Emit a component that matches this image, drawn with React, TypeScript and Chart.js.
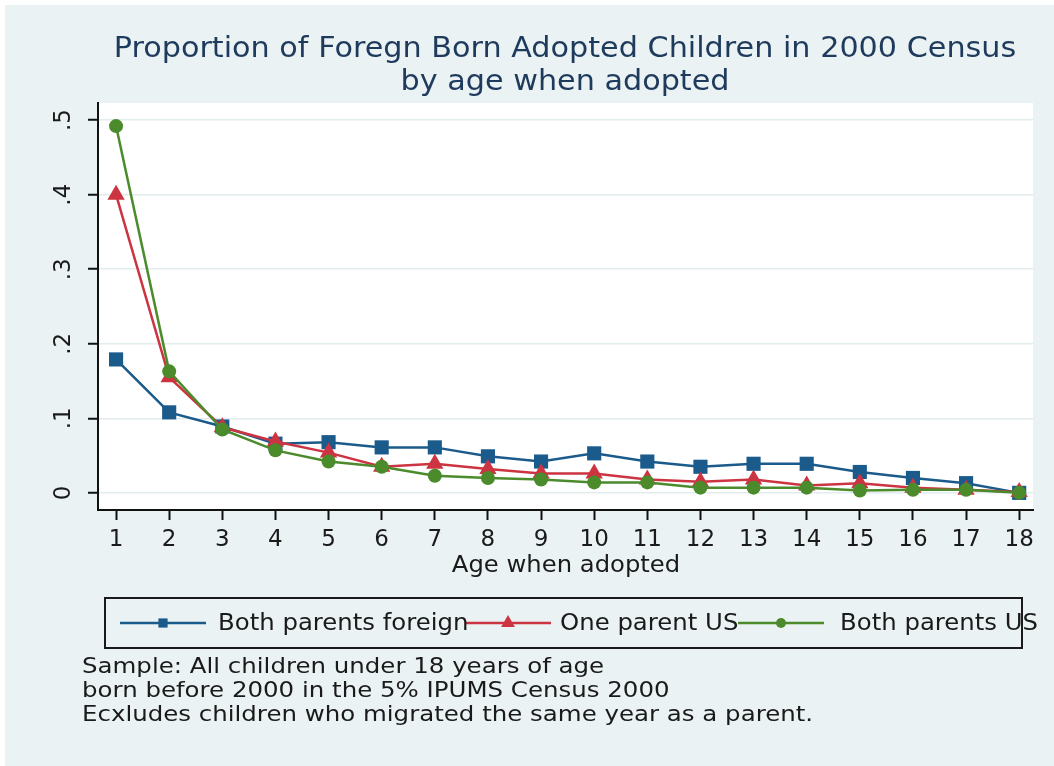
import React, { useEffect, useRef } from 'react';
import { Chart, registerables } from 'chart.js';

Chart.register(...registerables);

const ages = [1, 2, 3, 4, 5, 6, 7, 8, 9, 10, 11, 12, 13, 14, 15, 16, 17, 18];
const bothForeign = [0.179, 0.108, 0.089, 0.066, 0.068, 0.061, 0.061, 0.049, 0.042, 0.053, 0.042, 0.035, 0.039, 0.039, 0.028, 0.020, 0.013, 0.000];
const oneUS = [0.400, 0.155, 0.088, 0.069, 0.054, 0.035, 0.039, 0.032, 0.026, 0.026, 0.018, 0.015, 0.018, 0.010, 0.013, 0.007, 0.004, 0.001];
const bothUS = [0.492, 0.163, 0.085, 0.057, 0.042, 0.035, 0.023, 0.020, 0.018, 0.014, 0.014, 0.007, 0.007, 0.007, 0.003, 0.004, 0.004, 0.000];
const yTicks = [0, 0.1, 0.2, 0.3, 0.4, 0.5];
const yTickLabels = ['0', '.1', '.2', '.3', '.4', '.5'];
const seriesNames = ['Both parents foreign', 'One parent US', 'Both parents US'];
const titleLines = ['Proportion of Foregn Born Adopted Children in 2000 Census', 'by age when adopted'];
const xTitle = 'Age when adopted';
const notes = [
  'Sample: All children under 18 years of age',
  'born before 2000 in the 5% IPUMS Census 2000',
  'Ecxludes children who migrated the same year as a parent.',
];

const COLORS = ['#1b5b8c', '#cc3441', '#4b8b2c'];
const STYLES = ['rect', 'triangle', 'circle'];
const RADII = [10, 10, 7];
const LEG_RADII = [6.5, 8, 5];
const LEG_KEY_CENTERS = [158, 503, 776];
const LEG_LABEL_X = [213, 555, 835];
const BG = '#eaf2f3';
const FONT = '"DejaVu Sans", sans-serif';

function marker(ctx: CanvasRenderingContext2D, style: string, r: number, x: number, y: number) {
  ctx.beginPath();
  if (style === 'rect') {
    const s = r * Math.SQRT1_2;
    ctx.rect(x - s, y - s, 2 * s, 2 * s);
  } else if (style === 'triangle') {
    for (let k = 0; k < 3; k++) {
      const a = (k * 2 * Math.PI) / 3;
      const px = x + Math.sin(a) * r;
      const py = y - Math.cos(a) * r;
      if (k === 0) ctx.moveTo(px, py); else ctx.lineTo(px, py);
    }
    ctx.closePath();
  } else {
    ctx.arc(x, y, r, 0, Math.PI * 2);
  }
  ctx.fill();
}

function text(ctx: CanvasRenderingContext2D, s: string, x: number, y: number, sx: number) {
  ctx.save();
  ctx.translate(x, y);
  ctx.scale(sx, 1);
  ctx.fillText(s, 0, 0);
  ctx.restore();
  return ctx.measureText(s).width * sx;
}

const decorPlugin = {
  id: 'decor',
  beforeDraw(chart: any) {
    const { ctx, chartArea, width, height } = chart;
    ctx.save();
    ctx.fillStyle = BG;
    ctx.fillRect(0, 0, width, height);
    ctx.fillStyle = '#ffffff';
    ctx.fillRect(chartArea.left, chartArea.top, chartArea.right - chartArea.left, chartArea.bottom - chartArea.top);
    ctx.restore();
  },
  afterDraw(chart: any) {
    const { ctx } = chart;
    ctx.save();
    // title
    ctx.fillStyle = '#1e3a5c';
    ctx.font = `28px ${FONT}`;
    ctx.textAlign = 'center';
    ctx.textBaseline = 'middle';
    const cx = 560;
    text(ctx, titleLines[0], cx, 45, 1.08);
    text(ctx, titleLines[1], cx, 78, 1.08);

    // x axis title
    ctx.fillStyle = '#1a1a1a';
    ctx.font = `23px ${FONT}`;
    text(ctx, xTitle, 561, 561, 1.055);

    // legend box
    const bx = 100, by = 593, bw = 917, bh = 50;
    ctx.strokeStyle = '#1a1a1a';
    ctx.lineWidth = 2;
    ctx.strokeRect(bx, by, bw, bh);
    const ly = by + bh / 2;
    const datasets = chart.data.datasets;
    for (let i = 0; i < seriesNames.length; i++) {
      const col = datasets[i].borderColor;
      const c = LEG_KEY_CENTERS[i];
      ctx.strokeStyle = col;
      ctx.lineWidth = 2.5;
      ctx.beginPath();
      ctx.moveTo(c - 43, ly);
      ctx.lineTo(c + 43, ly);
      ctx.stroke();
      ctx.fillStyle = col;
      marker(ctx, STYLES[i], LEG_RADII[i], c, ly);
    }
    ctx.font = `23px ${FONT}`;
    ctx.textAlign = 'left';
    ctx.fillStyle = '#1a1a1a';
    for (let i = 0; i < seriesNames.length; i++) {
      text(ctx, seriesNames[i], LEG_LABEL_X[i], ly + 1, 1.06);
    }

    // notes
    ctx.font = `21px ${FONT}`;
    ctx.fillStyle = '#1a1a1a';
    ctx.textAlign = 'left';
    notes.forEach((n, i) => text(ctx, n, 77, 663 + i * 24, 1.165));
    ctx.restore();
  },
};

export default function App() {
  const ref = useRef<HTMLCanvasElement>(null);
  useEffect(() => {
    if (!ref.current) return;
    const mk = (vals: number[], i: number) => ({
      label: seriesNames[i],
      data: ages.map((a, k) => ({ x: a, y: vals[k] })),
      borderColor: COLORS[i],
      backgroundColor: COLORS[i],
      borderWidth: 2.5,
      pointStyle: STYLES[i],
      pointRadius: RADII[i],
      pointBorderWidth: 0,
      pointBackgroundColor: COLORS[i],
      pointBorderColor: COLORS[i],
      tension: 0,
      order: 2 - i,
    });
    const chart = new Chart(ref.current, {
      type: 'line',
      data: { datasets: [mk(bothForeign, 0), mk(oneUS, 1), mk(bothUS, 2)] as any },
      options: {
        animation: false,
        responsive: true,
        maintainAspectRatio: false,
        layout: { padding: { left: 33, right: 21, top: 98, bottom: 186 } },
        plugins: { legend: { display: false }, title: { display: false }, tooltip: { enabled: false } },
        scales: {
          x: {
            type: 'linear',
            min: 0.66,
            max: 18.26,
            afterBuildTicks: (s: any) => { s.ticks = ages.map((v) => ({ value: v })); },
            afterFit: (s: any) => { s.height = 70; },
            grid: { drawOnChartArea: false, drawTicks: true, tickLength: 10, tickColor: '#111', tickWidth: 2 },
            border: { display: true, color: '#111', width: 2 },
            ticks: { color: '#1a1a1a', font: { family: FONT, size: 23 }, padding: 6, maxRotation: 0, autoSkip: false, callback: (v: any) => String(v) },
          },
          y: {
            type: 'linear',
            min: -0.023,
            max: 0.523,
            afterBuildTicks: (s: any) => { s.ticks = yTicks.map((v) => ({ value: v })); },
            afterFit: (s: any) => { s.width = 60; },
            grid: { color: '#e1ecee', lineWidth: 1.5, tickLength: 10, tickColor: '#111', tickWidth: 2 },
            border: { display: true, color: '#111', width: 2 },
            ticks: {
              color: '#1a1a1a',
              font: { family: FONT, size: 23 },
              minRotation: 90,
              maxRotation: 90,
              crossAlign: 'center',
              padding: 13,
              autoSkip: false,
              callback: (v: any) => { const k = yTicks.findIndex((t) => Math.abs(t - v) < 1e-9); return k >= 0 ? yTickLabels[k] : ''; },
            },
          },
        },
      } as any,
      plugins: [decorPlugin],
    });
    return () => chart.destroy();
  }, []);
  return (
    <div style={{ position: 'absolute', left: 0, top: 0, width: 1054, height: 766, background: '#ffffff' }}>
      <div style={{ position: 'absolute', left: 5, top: 5, width: 1049, height: 761 }}>
        <canvas ref={ref} />
      </div>
    </div>
  );
}
